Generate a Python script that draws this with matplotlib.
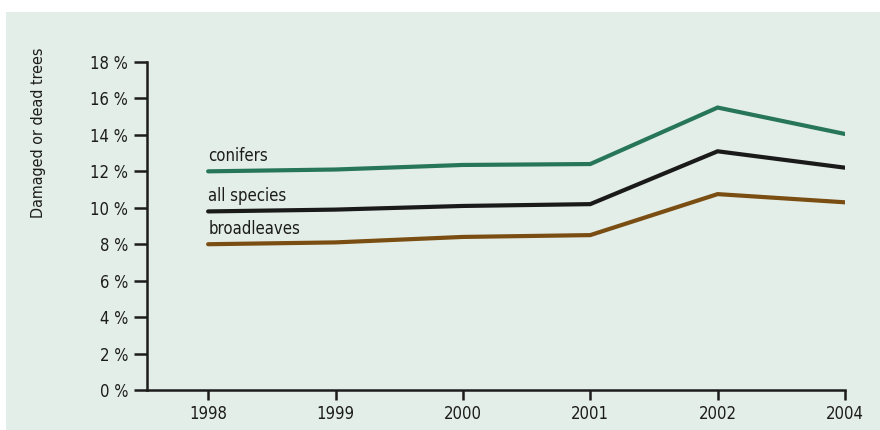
import matplotlib.pyplot as plt
from matplotlib.patches import Rectangle

years = ['1998', '1999', '2000', '2001', '2002', '2004']
conifers = [12.0, 12.1, 12.35, 12.4, 15.5, 14.05]
all_species = [9.8, 9.9, 10.1, 10.2, 13.1, 12.2]
broadleaves = [8.0, 8.1, 8.4, 8.5, 10.75, 10.3]
y_ticks = [0, 2, 4, 6, 8, 10, 12, 14, 16, 18]

plt.rcParams['font.family'] = ['DejaVu Sans']
plt.rcParams['font.stretch'] = 'condensed'

bg = '#e3eee8'
ink = '#1c1c1c'

fig = plt.figure(figsize=(8.8, 4.3), dpi=100)
fig.patch.set_facecolor('white')
fig.patches.append(Rectangle((6 / 880, 0), 1, 1 - 12 / 430, transform=fig.transFigure,
                             facecolor=bg, edgecolor='none', zorder=-10))

ax = fig.add_axes([147 / 880, 40 / 430, 698 / 880, 328 / 430])
ax.set_facecolor('none')

x = list(range(len(years)))
series = [
    ('conifers', conifers, '#27765a'),
    ('all species', all_species, '#1a1a1a'),
    ('broadleaves', broadleaves, '#7a4e12'),
]
for name, vals, col in series:
    ax.plot(x, vals, color=col, lw=3.0, solid_capstyle='round', solid_joinstyle='miter')
    ax.text(x[0], vals[0] + 0.35, name, ha='left', va='bottom', fontsize=12, color=ink)

ax.set_xlim(-0.48, 5.0)
ax.set_ylim(0, 18)
ax.set_xticks(x)
ax.set_xticklabels(years)
ax.set_yticks(y_ticks)
ax.set_yticklabels([f'{v} %' for v in y_ticks])

for side in ['top', 'right']:
    ax.spines[side].set_visible(False)
for side in ['left', 'bottom']:
    ax.spines[side].set_color(ink)
    ax.spines[side].set_linewidth(1.8)

ax.tick_params(axis='y', length=9.5, width=1.8, color=ink, labelsize=12, labelcolor=ink, pad=4)
ax.tick_params(axis='x', length=7, width=1.8, color=ink, labelsize=12, labelcolor=ink, pad=4)

fig.text(38 / 880, 1 - 133 / 430, 'Damaged or dead trees', rotation=90,
         ha='center', va='center', fontsize=11.5, color=ink)

fig.savefig('out.png', dpi=100, facecolor=fig.get_facecolor())
